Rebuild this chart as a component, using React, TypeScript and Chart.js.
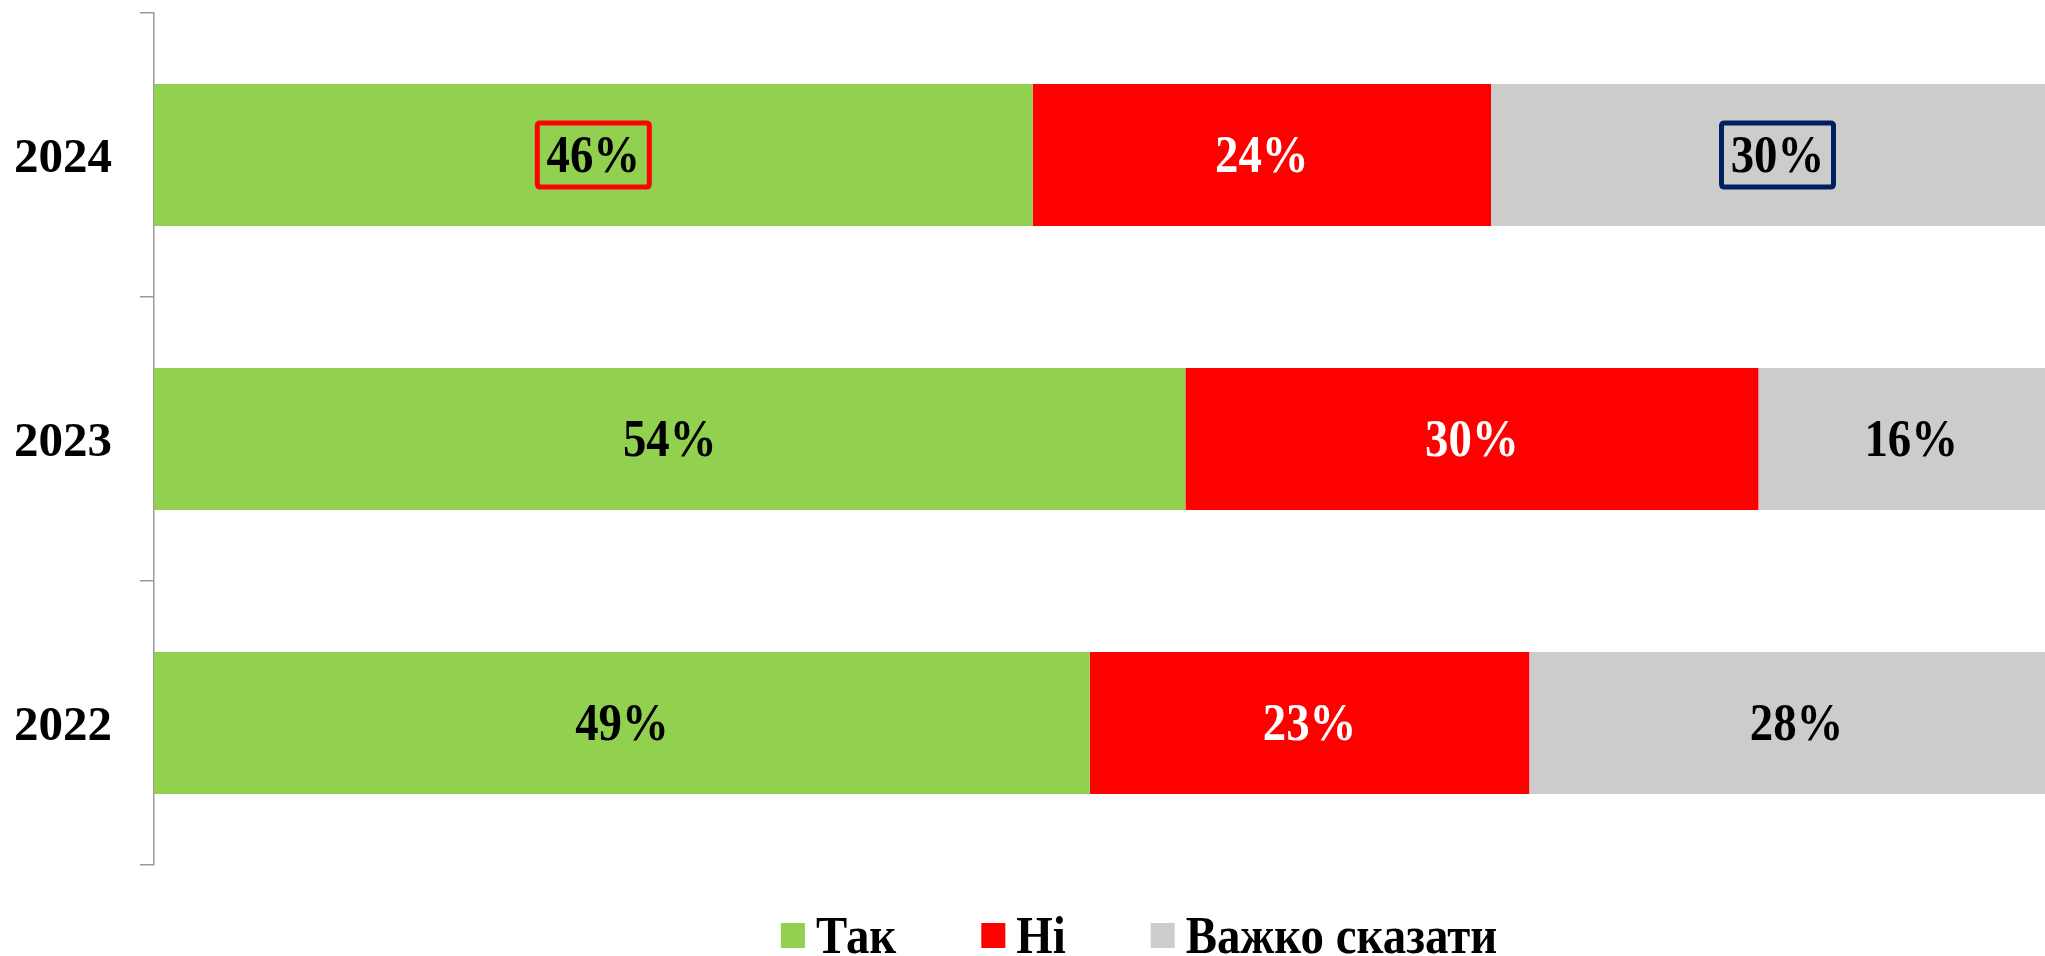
import { useEffect, useRef } from "react";
import { Chart, registerables } from "chart.js";

Chart.register(...registerables);

const categories = ["2024", "2023", "2022"];
const seriesNames = ["Так", "Ні", "Важко сказати"];
const yesValues = [46, 54, 49];
const noValues = [24, 30, 23];
const hardValues = [30, 16, 28];

const seriesColors = ["#92D050", "#FF0000", "#CCCCCC"];
const labelColors = ["#000000", "#FFFFFF", "#000000"];
const highlights = [
  { dataset: 0, index: 0, color: "#FF0000" },
  { dataset: 2, index: 0, color: "#002060" },
];

const FONT_FAMILY = "'Liberation Serif', 'Times New Roman', serif";
const FONT_SIZE = 49;
const TEXT_SIZE = 52;
const TEXT_XSCALE = 0.9;

function roundRectPath(ctx: CanvasRenderingContext2D, x: number, y: number, w: number, h: number, r: number) {
  ctx.beginPath();
  ctx.moveTo(x + r, y);
  ctx.lineTo(x + w - r, y);
  ctx.quadraticCurveTo(x + w, y, x + w, y + r);
  ctx.lineTo(x + w, y + h - r);
  ctx.quadraticCurveTo(x + w, y + h, x + w - r, y + h);
  ctx.lineTo(x + r, y + h);
  ctx.quadraticCurveTo(x, y + h, x, y + h - r);
  ctx.lineTo(x, y + r);
  ctx.quadraticCurveTo(x, y, x + r, y);
  ctx.closePath();
}

function drawScaledText(ctx: CanvasRenderingContext2D, text: string, x: number, y: number) {
  ctx.save();
  ctx.translate(x, y);
  ctx.scale(TEXT_XSCALE, 1);
  ctx.fillText(text, 0, 0);
  ctx.restore();
}

const labelsPlugin = {
  id: "segmentLabels",
  afterDatasetsDraw(chart: any) {
    const ctx: CanvasRenderingContext2D = chart.ctx;
    ctx.save();
    ctx.font = `bold ${TEXT_SIZE}px ${FONT_FAMILY}`;
    ctx.textAlign = "center";
    ctx.textBaseline = "middle";
    chart.data.datasets.forEach((ds: any, di: number) => {
      const meta = chart.getDatasetMeta(di);
      meta.data.forEach((el: any, i: number) => {
        const p = el.getProps(["x", "base", "y"], true);
        const cx = (p.x + p.base) / 2;
        const cy = p.y;
        ctx.fillStyle = labelColors[di];
        drawScaledText(ctx, `${ds.data[i]}%`, cx, cy + 4);
        const hl = highlights.find((h) => h.dataset === di && h.index === i);
        if (hl) {
          ctx.strokeStyle = hl.color;
          ctx.lineWidth = 5;
          const w = 112;
          const h = 64;
          roundRectPath(ctx, cx - w / 2, cy - h / 2, w, h, 3);
          ctx.stroke();
        }
      });
    });
    ctx.restore();
  },
};

const legendPlugin = {
  id: "customLegend",
  afterDraw(chart: any) {
    const ctx: CanvasRenderingContext2D = chart.ctx;
    ctx.save();
    ctx.font = `bold ${TEXT_SIZE}px ${FONT_FAMILY}`;
    ctx.textAlign = "left";
    ctx.textBaseline = "alphabetic";
    const boxW = 24;
    const boxH = 25;
    const gapBoxText = 11;
    const gapItems = 85;
    const names: string[] = chart.data.datasets.map((d: any) => d.label);
    const widths = names.map((n) => ctx.measureText(n).width * TEXT_XSCALE);
    const total =
      widths.reduce((a, w) => a + boxW + gapBoxText + w, 0) + gapItems * (names.length - 1);
    const centerX = 1139;
    let x = centerX - total / 2;
    const boxTop = 923;
    const baseline = 953;
    names.forEach((n, i) => {
      ctx.fillStyle = chart.data.datasets[i].backgroundColor;
      ctx.fillRect(x, boxTop, boxW, boxH);
      x += boxW + gapBoxText;
      ctx.fillStyle = "#000000";
      drawScaledText(ctx, n, x, baseline);
      x += widths[i] + gapItems;
    });
    ctx.restore();
  },
};

export default function App() {
  const canvasRef = useRef<HTMLCanvasElement | null>(null);

  useEffect(() => {
    if (!canvasRef.current) return;
    const values = [yesValues, noValues, hardValues];
    const chart = new Chart(canvasRef.current, {
      type: "bar",
      data: {
        labels: categories,
        datasets: seriesNames.map((name, i) => ({
          label: name,
          data: values[i],
          backgroundColor: seriesColors[i],
          borderWidth: 0,
          barPercentage: 0.5,
          categoryPercentage: 1,
        })),
      },
      options: {
        indexAxis: "y",
        animation: false,
        responsive: false,
        maintainAspectRatio: false,
        layout: { padding: { top: 13, bottom: 91, right: 36, left: 0 } },
        plugins: {
          legend: { display: false },
          tooltip: { enabled: false },
        },
        scales: {
          x: {
            stacked: true,
            min: 0,
            max: 100,
            display: false,
          },
          y: {
            stacked: true,
            grid: {
              drawOnChartArea: false,
              drawTicks: true,
              tickLength: 14,
              color: "#9A9A9A",
              lineWidth: 1.5,
            },
            border: { display: true, color: "#9A9A9A", width: 1.5 },
            ticks: {
              padding: 28,
              labelOffset: 4,
              color: "#000000",
              font: { family: FONT_FAMILY, size: FONT_SIZE, weight: "bold" },
            },
            afterFit(scale: any) {
              scale.width = 154;
              scale.paddingTop = 0;
              scale.paddingBottom = 0;
            },
          },
        },
      },
      plugins: [labelsPlugin, legendPlugin],
    } as any);
    return () => chart.destroy();
  }, []);

  return (
    <div
      style={{
        position: "fixed",
        left: 0,
        top: 0,
        width: 2045,
        height: 956,
        overflow: "hidden",
        background: "#ffffff",
      }}
    >
      <canvas ref={canvasRef} width={2100} height={956} style={{ display: "block" }} />
    </div>
  );
}
